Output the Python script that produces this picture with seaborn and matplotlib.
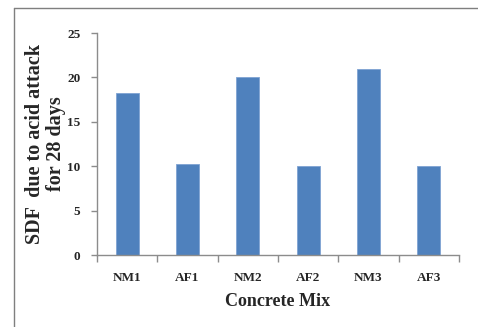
import matplotlib
matplotlib.use("Agg")
import matplotlib.pyplot as plt
import seaborn as sns
import pandas as pd
from matplotlib.lines import Line2D

# === DATA ===
mixes = ["NM1", "AF1", "NM2", "AF2", "NM3", "AF3"]
sdf_values = [18.2, 10.2, 20.1, 10.0, 21.0, 10.0]

df = pd.DataFrame({"mix": mixes, "sdf": sdf_values})

# === STYLE ===
sns.set_style("white")
plt.rcParams["font.family"] = ["Liberation Serif", "DejaVu Serif"]
plt.rcParams["font.weight"] = "bold"

W, H = 478, 327
fig = plt.figure(figsize=(W / 100, H / 100), dpi=100)
ax = fig.add_axes([97 / W, 1 - 255 / H, (459 - 97) / W, (255 - 33) / H])

sns.barplot(data=df, x="mix", y="sdf", color="#4f81bd", width=0.38,
            saturation=1, ax=ax, edgecolor="#7fa3d3", linewidth=0.6)

ax.set_ylim(0, 25)
ax.set_xlim(-0.5, 5.5)
ax.set_yticks([0, 5, 10, 15, 20, 25])

axis_color = "#8c8c8c"
for side in ["top", "right"]:
    ax.spines[side].set_visible(False)
for side in ["left", "bottom"]:
    ax.spines[side].set_color(axis_color)
    ax.spines[side].set_linewidth(1.0)

# ticks: y outward, x ticks at category boundaries
ax.tick_params(axis="y", left=True, direction="out", length=4,
               color=axis_color, width=1, labelsize=9.5, pad=8)
ax.tick_params(axis="x", which="major", bottom=False, length=0,
               labelsize=9.5, pad=12)
ax.set_xticks([i - 0.5 for i in range(len(mixes) + 1)], minor=True)
ax.tick_params(axis="x", which="minor", bottom=True, direction="out",
               length=5, color=axis_color, width=1)
for lbl in ax.get_xticklabels() + ax.get_yticklabels():
    lbl.set_fontweight("bold")

ax.set_xlabel("Concrete Mix", fontsize=13, fontweight="bold", labelpad=7)
ax.set_ylabel("SDF  due to acid attack\nfor 28 days", fontsize=14.5,
              fontweight="bold", linespacing=1.1)
ax.yaxis.set_label_coords(-0.085, 0.5)

# partial outer frame (top and left)
fig.add_artist(Line2D([14 / W, 14 / W], [0, 1 - 8 / H], color="#7f7f7f",
                      linewidth=1.0, transform=fig.transFigure))
fig.add_artist(Line2D([14 / W, 1], [1 - 8 / H, 1 - 8 / H], color="#7f7f7f",
                      linewidth=1.0, transform=fig.transFigure))

fig.savefig("out.png", dpi=100)
